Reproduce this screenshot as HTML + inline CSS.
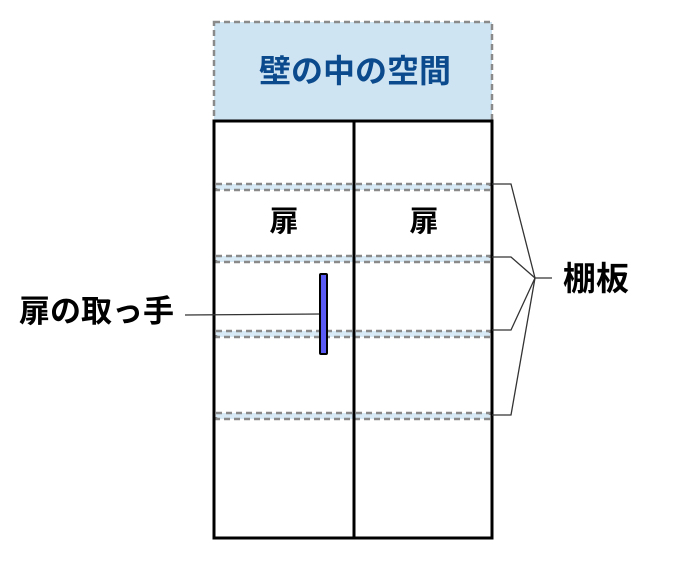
<!DOCTYPE html><html><head><meta charset="utf-8"><style>body{margin:0;background:#fff;width:700px;height:557px;overflow:hidden}</style></head><body>
<svg width="700" height="557" xmlns="http://www.w3.org/2000/svg" font-family="Liberation Sans, Noto Sans CJK JP, sans-serif" font-weight="bold">
<rect x="214" y="22" width="278" height="99" fill="#cfe4f3" stroke="#8a8a8a" stroke-width="2.5" stroke-dasharray="6,4"/>
<text x="355" y="82" font-size="32" fill="#0b4a8c" text-anchor="middle">壁の中の空間</text>
<rect x="214" y="121" width="278" height="417" fill="#fff" stroke="#000" stroke-width="3"/>
<g stroke="#8a8a8a" stroke-width="2.5" stroke-dasharray="6,4">
<rect x="216" y="184" width="274" height="6" fill="#d8eaf6"/>
<rect x="216" y="256" width="274" height="6" fill="#d8eaf6"/>
<rect x="216" y="331" width="274" height="6" fill="#d8eaf6"/>
<rect x="216" y="413" width="274" height="6" fill="#d8eaf6"/>
</g>
<line x1="354" y1="121" x2="354" y2="538" stroke="#000" stroke-width="3"/>
<line x1="214" y1="121" x2="214" y2="538" stroke="#000" stroke-width="3"/>
<line x1="492" y1="121" x2="492" y2="538" stroke="#000" stroke-width="3"/>
<text x="284" y="231" font-size="29" text-anchor="middle">扉</text>
<text x="424" y="231" font-size="29" text-anchor="middle">扉</text>
<g stroke="#333" stroke-width="1.3" fill="none">
<polyline points="492,184 511,184 535,278"/>
<polyline points="492,257 511,257 535,278"/>
<polyline points="492,330 511,330 535,278"/>
<polyline points="492,415 511,415 535,278"/>
<line x1="535" y1="278" x2="552" y2="278"/>
<line x1="185" y1="315" x2="321" y2="314"/>
</g>
<rect x="320" y="274" width="7" height="80" rx="1" fill="#5a5af5" stroke="#000" stroke-width="2"/>
<text x="563" y="290" font-size="33">棚板</text>
<text x="19" y="322" font-size="31">扉の取っ手</text>
</svg>
</body></html>
